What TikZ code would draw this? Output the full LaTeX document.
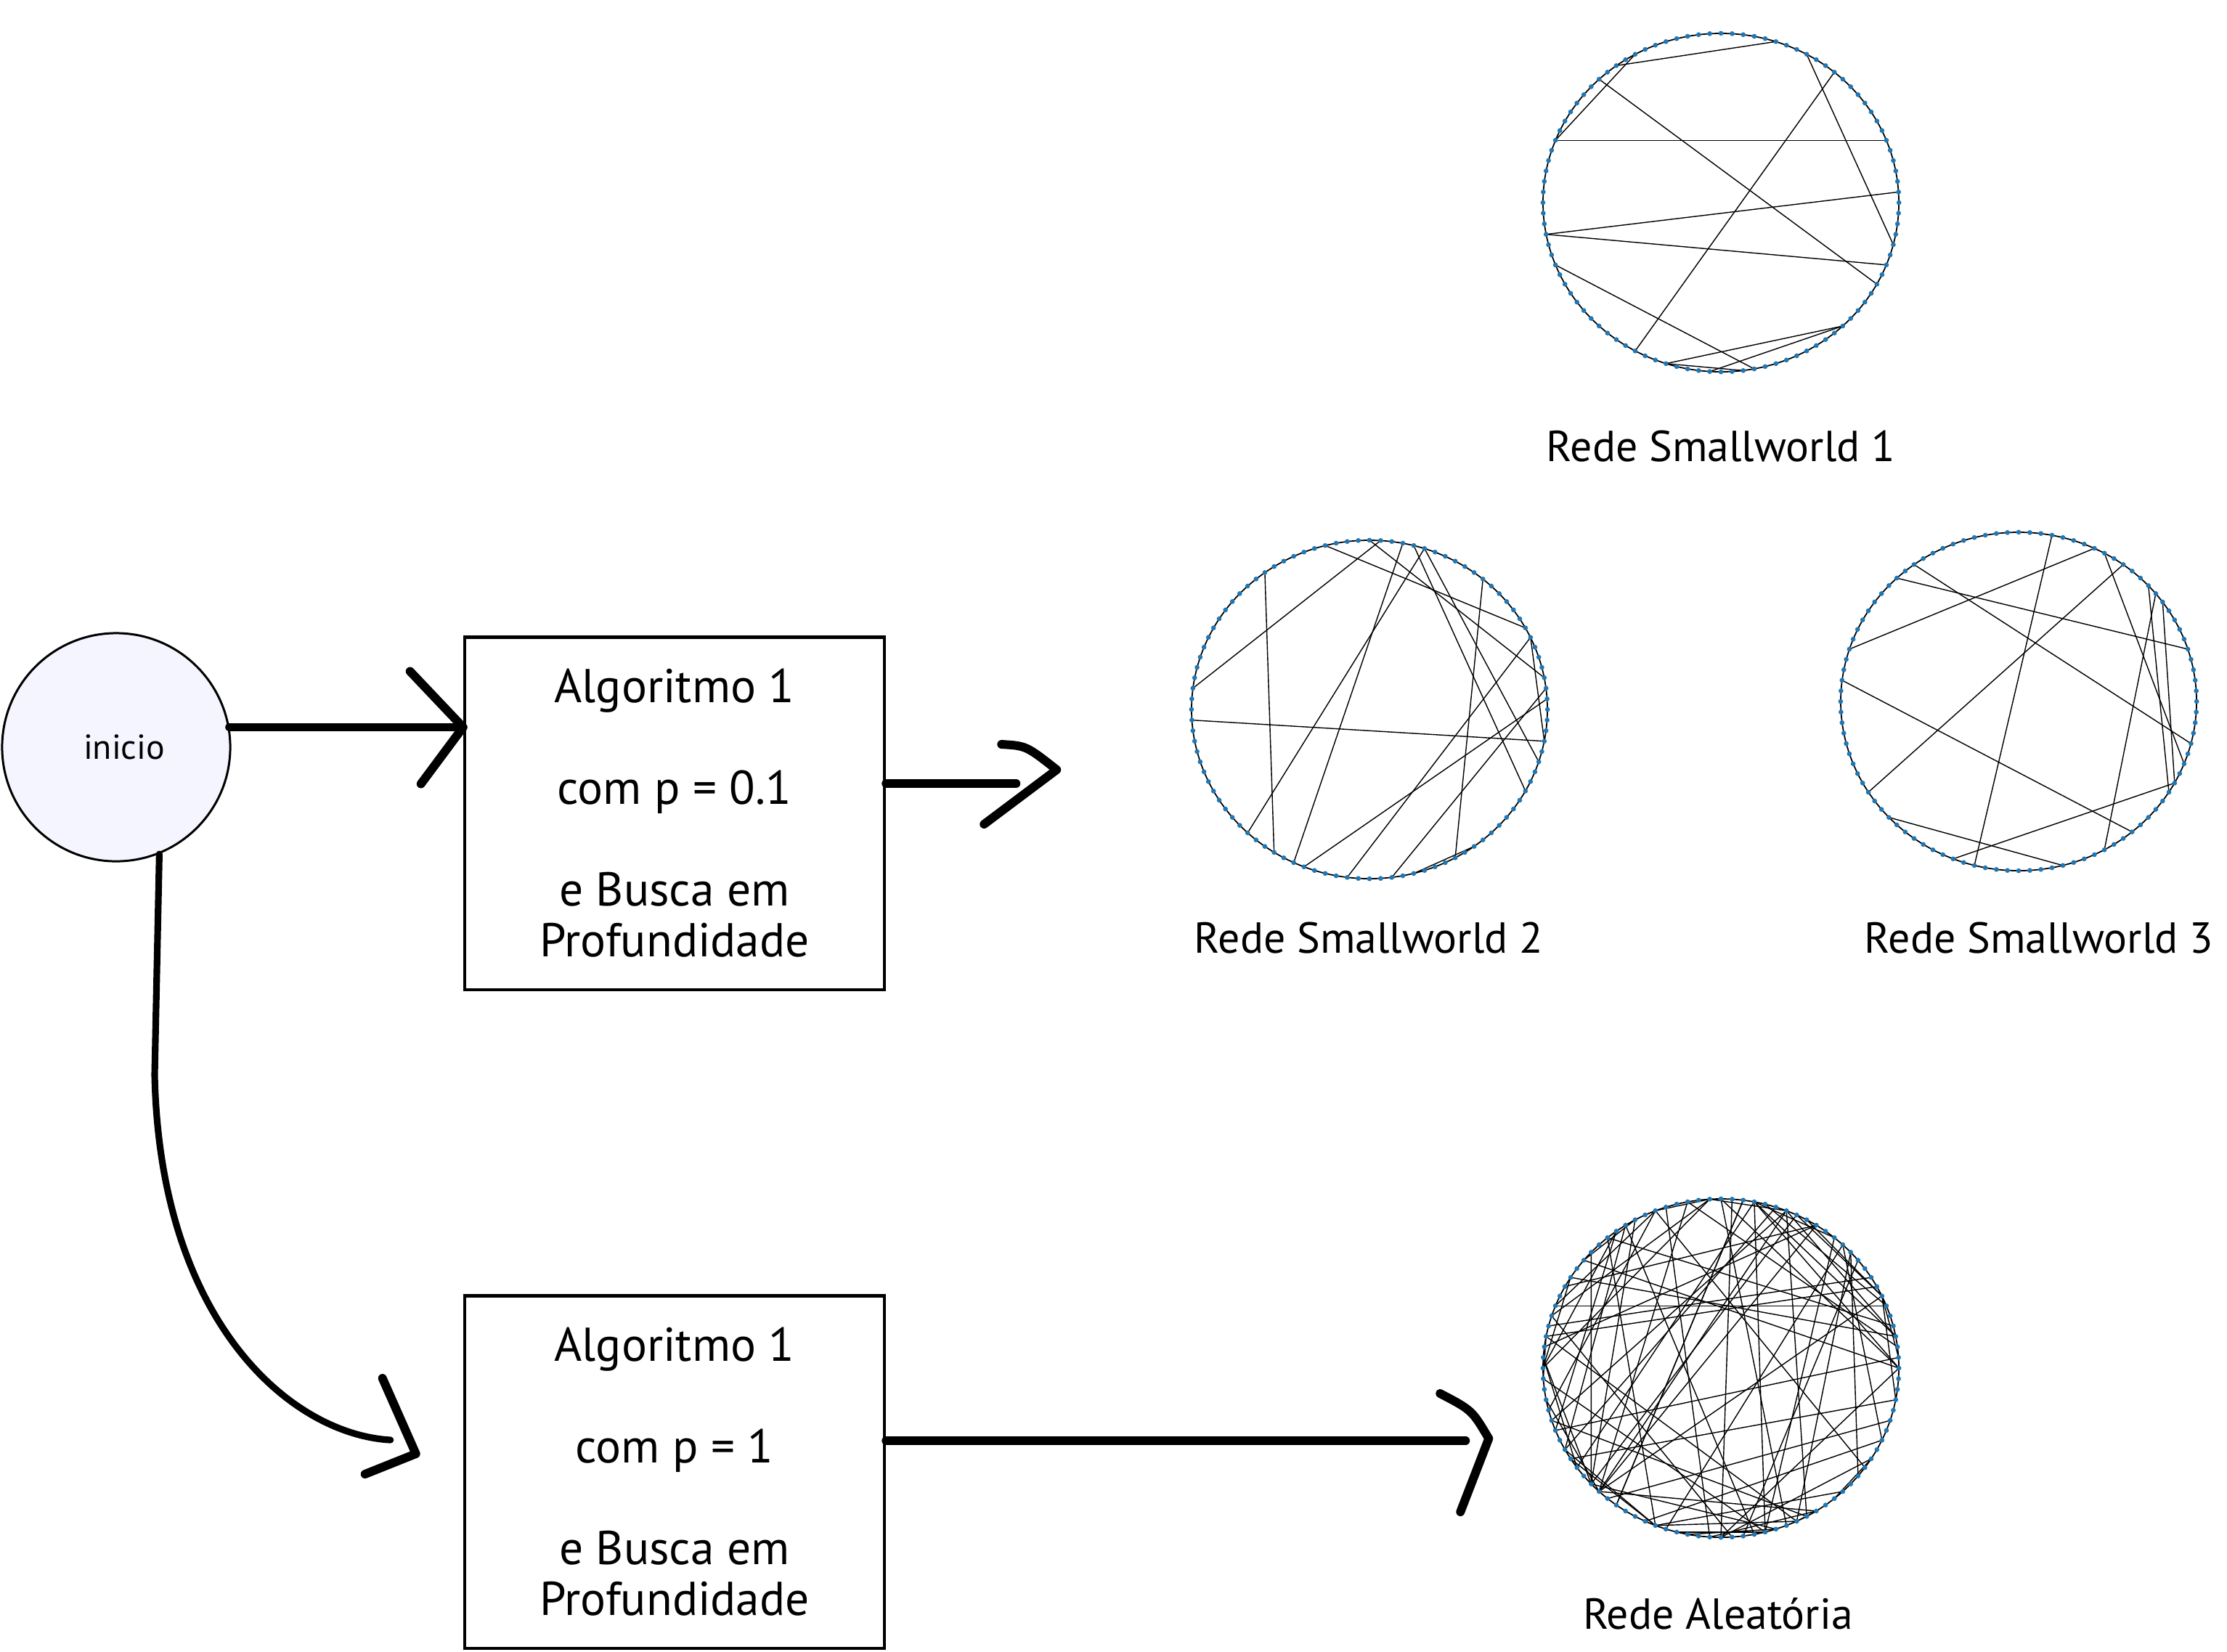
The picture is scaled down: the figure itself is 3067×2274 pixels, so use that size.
\documentclass[tikz,border=0pt]{standalone}
\usepackage{fontspec}
\setmainfont{PT Sans}
\usetikzlibrary{calc}
\definecolor{netblue}{HTML}{1F77B4}
\definecolor{iniciofill}{HTML}{F5F5FF}
\tikzset{
  startnode/.style={circle, draw, line width=0.85pt, fill=iniciofill, minimum size=3.14cm, inner sep=0pt, font=\fontsize{13.6}{16}\selectfont},
  algbox/.style={rectangle, draw, line width=1.2pt, minimum width=5.78cm, minimum height=4.85cm, align=center, inner sep=0pt, font=\fontsize{18.6}{19.9}\selectfont},
  netlabel/.style={anchor=base, inner sep=0pt, font=\fontsize{17}{20}\selectfont},
  shaft/.style={line width=3.4pt, line cap=round},
  curva/.style={line width=2.6pt, line cap=round},
  arrowhd/.style={line width=3.4pt, line cap=round, line join=round},
  ring/.style={line width=0.5pt},
  chord/.style={line width=0.4pt},
  netdot/.style={fill=netblue},
}
% one network drawn round a circle of 100 nodes
\newcommand{\redecirc}[2]{%
  \foreach \k in {0,...,99} {\coordinate (#1-\k) at (\k*3.6:1);}
  \draw[ring] (#1-0) \foreach \k in {1,...,99} {-- (#1-\k)} -- cycle;
  \foreach \a/\b in {#2} {\draw[chord] (#1-\a) -- (#1-\b);}
  \foreach \k in {0,...,99} {\fill[netdot] (#1-\k) circle (0.95pt);}
}

\begin{document}
\begin{tikzpicture}[x=0.01cm, y=-0.01cm]
\useasboundingbox (0,0) rectangle (3067,2274);

\node[startnode] (inicio) at (160,1029) {\hspace*{0.22cm}inicio};
\node[algbox] (alg1) at (929,1120) {Algoritmo 1\\[19.9pt]com p = 0.1\\[19.9pt]e Busca em\\Profundidade};
\node[algbox] (alg2) at (929,2027) {Algoritmo 1\\[19.9pt]com p = 1\\[19.9pt]e Busca em\\Profundidade};

% inicio -> algoritmo p=0.1
\coordinate (tip1) at (inicio.10 -| alg1.west);
\draw[shaft] (inicio.10) -- (tip1);
\draw[arrowhd] ($(tip1)+(-73,-77)$) -- (tip1) -- ($(tip1)+(-58,78)$);

% algoritmo p=0.1 -> redes smallworld
\coordinate (sai1) at ($(alg1.east)+(0,-41)$);
\coordinate (ponta1) at ($(sai1)+(179,0)$);
\draw[shaft] (sai1) -- (ponta1);
\draw[arrowhd] ($(ponta1)+(-20,-54)$) .. controls ($(ponta1)+(14,-52)$) .. ($(ponta1)+(56,-19)$) -- ($(ponta1)+(-44,56)$);

% inicio -> algoritmo p=1
\coordinate (ponta3) at ($(alg2.west)+(-65,-25)$);
\coordinate (fimcurva) at ($(ponta3)+(-35,-19)$);
\draw[curva] (inicio.-68) -- (213,1480) .. controls (220,1820) and (400,1975) .. (fimcurva);
\draw[arrowhd] ($(ponta3)+(-46,-104)$) -- (ponta3) -- ($(ponta3)+(-70,28)$);

% algoritmo p=1 -> rede aleatoria
\coordinate (sai2) at ($(alg2.east)+(0,-43)$);
\coordinate (ponta2) at ($(sai2)+(798,0)$);
\draw[shaft] (sai2) -- (ponta2);
\draw[arrowhd] ($(ponta2)+(-35,-65)$) .. controls ($(ponta2)+(9,-42)$) .. ($(ponta2)+(32,-3)$) -- ($(ponta2)+(-7,98)$);

% redes
\begin{scope}[shift={(2370,279)}, x=2.45cm, y=2.33cm]
\redecirc{sw1}{20/35, 33/44, 44/6, 37/92, 17/96, 14/67, 1/53, 53/94, 56/78, 87/70, 87/74, 70/77}
\end{scope}
\begin{scope}[shift={(1886,977)}, x=2.45cm, y=2.33cm]
\redecirc{sw2}{35/66, 24/48, 29/8, 25/3, 22/68, 20/63, 21/92, 20/95, 14/83, 7/73, 7/97, 2/77, 1/69, 51/97, 85/79}
\end{scope}
\begin{scope}[shift={(2780,966)}, x=2.45cm, y=2.33cm]
\redecirc{sw3}{22/71, 18/45, 35/96, 37/5, 15/59, 17/94, 12/91, 11/83, 10/92, 48/86, 62/79, 69/92}
\end{scope}
\begin{scope}[shift={(2370,1884)}, x=2.45cm, y=2.33cm]
\pgfmathsetseed{7}
\foreach \k in {0,...,99} {\coordinate (al-\k) at (\k*3.6:1);}
\draw[ring] (al-0) \foreach \k in {1,...,99} {-- (al-\k)} -- cycle;
\draw[chord] (al-44) -- (al-6);
\draw[chord] (al-38) -- (al-62);
\foreach \e in {1,...,80} {
  \pgfmathrandominteger{\ea}{0}{99}
  \pgfmathrandominteger{\eb}{0}{99}
  \draw[chord] (al-\ea) -- (al-\eb);
}
\foreach \k in {0,...,99} {\fill[netdot] (al-\k) circle (0.95pt);}
\end{scope}

\node[netlabel] (rede1) at (2370,635) {Rede Smallworld 1};
\node[netlabel] (rede2) at (1885,1312) {Rede Smallworld 2};
\node[netlabel] (rede3) at (2808,1312) {Rede Smallworld 3};
\node[netlabel] (rede4) at (2366,2243) {Rede Aleatória};
\end{tikzpicture}
\end{document}
